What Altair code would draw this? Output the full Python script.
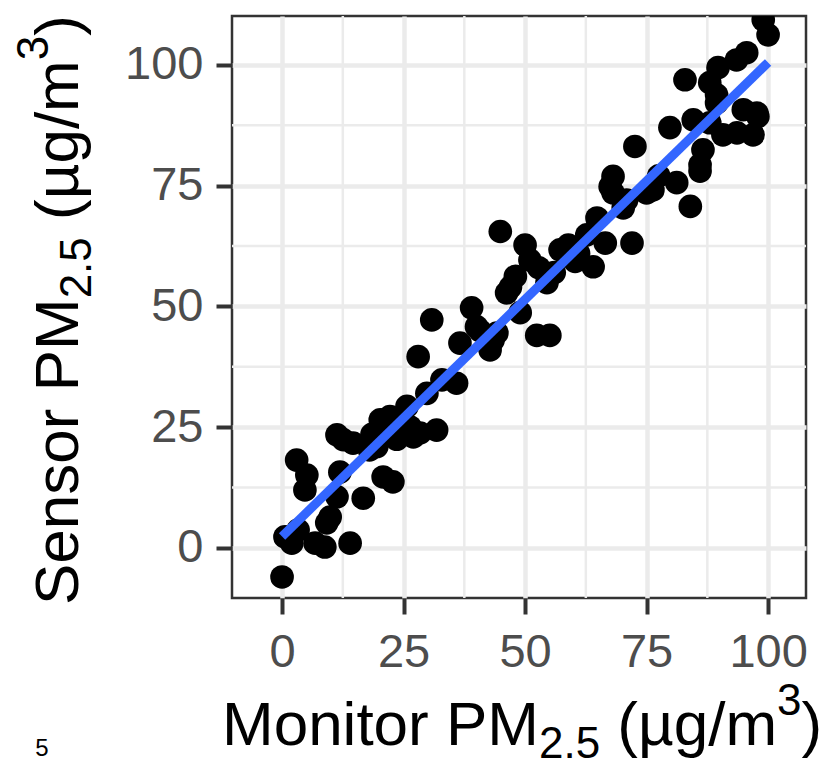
import altair as alt
import pandas as pd

# Monitor vs sensor PM2.5 readings (ug/m3)
monitor = [0, 0.6, 3, 5.1, 4.7, 2, 3.3, 6.8, 8.8, 9.2, 9.9, 11.3, 11.9, 14, 16.7, 20.8, 22.8,
           12.6, 14.6, 18, 27, 19.5, 20.2, 18.5, 21.5, 23.6, 22.2, 26.3, 25.7, 28.4, 31.8, 29.8,
           32.9, 35.9, 28, 30.8, 36.6, 39, 40, 42.8, 44.2, 46.2, 49, 52.4, 55.1, 44.9, 50, 51,
           48, 47, 54.5, 57.2, 58.9, 60.3, 64, 62.7, 64.8, 66.5, 72, 68.1, 70.2, 75, 72.6, 79.8,
           84.6, 67.5, 68.1, 70.9, 76.3, 81.2, 84, 86, 86.6, 90.7, 93.6, 96.9, 94.9, 97.7, 89.4,
           99, 100, 95.6, 93.5, 89.7, 82.9, 88, 89.4, 97.9, 86, 52.8, 56, 40.7, 43.4, 77.5, 88,
           11.3, 61]
sensor = [-6, 2.3, 18.2, 15.1, 12, 1, 3.7, 1, 0.2, 5.2, 6.4, 10.6, 15.7, 1, 10.3, 14.7, 13.7,
          22.4, 21.7, 20.3, 23, 21, 26.5, 23.5, 25, 22.5, 27.2, 25.1, 29.3, 23.8, 24.4, 32,
          34.8, 34.1, 39.6, 47.2, 42.4, 49.7, 45.8, 41, 44.5, 52.8, 48.7, 44, 44, 65.5, 62.7, 59.6,
          56.2, 54, 54.9, 61.7, 62.7, 59.3, 58.2, 64.8, 68.3, 63.1, 63.1, 73.5, 70.4, 73.5, 83.1, 87,
          88.6, 74.8, 76.9, 72, 74.1, 75.6, 70.7, 78, 82.4, 85.5, 85.9, 85.5, 90.7, 90, 92.1,
          109.3, 106.2, 102.5, 101, 99.4, 96.9, 96.3, 93.8, 89.3, 79.3, 58, 57, 45, 43, 77, 88,
          23.4, 61]

tick_values = [0, 25, 50, 75, 100]
minor_breaks = [12.5, 37.5, 62.5, 87.5]

df = pd.DataFrame({"monitor": monitor, "sensor": sensor})

FONT = "Liberation Sans"
W, H = 574, 582
xs = alt.Scale(domain=[-10.3, 107.8], nice=False, zero=False)
ys = alt.Scale(domain=[-10.35, 110.1], nice=False, zero=False)

common_axis = dict(values=tick_values, grid=True, gridColor="#EBEBEB", gridWidth=4.5,
                   domain=False, ticks=True, tickColor="#333333", tickWidth=4, tickSize=16,
                   labelFont=FONT, labelFontSize=47, labelColor="#4D4D4D", title=None)
xaxis = alt.Axis(labelPadding=15, **common_axis)
yaxis = alt.Axis(labelPadding=13, **common_axis)

minor_df = pd.DataFrame({"v": minor_breaks})
minor_x = alt.Chart(minor_df).mark_rule(color="#EBEBEB", strokeWidth=2.5).encode(
    x=alt.X("v:Q", scale=xs, axis=xaxis))
minor_y = alt.Chart(minor_df).mark_rule(color="#EBEBEB", strokeWidth=2.5).encode(
    y=alt.Y("v:Q", scale=ys, axis=yaxis))

points = alt.Chart(df).mark_circle(size=560, color="black", opacity=1, clip=True).encode(
    x=alt.X("monitor:Q", scale=xs, axis=xaxis),
    y=alt.Y("sensor:Q", scale=ys, axis=yaxis))

fit = alt.Chart(df).transform_regression(
    "monitor", "sensor", extent=[0, 100]
).mark_line(color="#3366FF", strokeWidth=9, strokeCap="butt", clip=True).encode(
    x=alt.X("monitor:Q", scale=xs, axis=xaxis),
    y=alt.Y("sensor:Q", scale=ys, axis=yaxis))

# Arial / Liberation Sans advance widths (em)
ADV = {"M": .833, "o": .556, "n": .556, "i": .222, "t": .278, "r": .333, " ": .278,
       "P": .667, "(": .333, ")": .333, "\u00b5": .576, "g": .556, "/": .278, "m": .833,
       "S": .667, "e": .556, "s": .5, ".": .278}
for d in "0123456789":
    ADV[d] = .556


def width(txt, size):
    return sum(ADV.get(c, .556) for c in txt) * size


BIG, SMALL = 62, 44
# (text, font size, baseline shift, extra leading gap in em of BIG)
x_parts = [("Monitor PM", BIG, 0, 0), ("2.5", SMALL, 13, 0), ("(\u00b5g/m", BIG, 0, .278),
           ("3", SMALL, -30, 0), (")", BIG, 0, 0)]
y_parts = [("Sensor PM", BIG, 0, 0), ("2.5", SMALL, 13, 0), ("(\u00b5g/m", BIG, 0, .278),
           ("3", SMALL, -30, 0), (")", BIG, 0, 0)]

one = pd.DataFrame({"a": [0]})
title_layers = []
off = 0.0
for txt, size, shift, gap in x_parts:
    off += gap * BIG
    title_layers.append(
        alt.Chart(one).mark_text(text=txt, font=FONT, fontSize=size, color="black",
                                 align="left", baseline="alphabetic").encode(
            x=alt.value(-10 + off), y=alt.value(729 + shift)))
    off += width(txt, size)
off = 0.0
for txt, size, shift, gap in y_parts:
    off += gap * BIG
    title_layers.append(
        alt.Chart(one).mark_text(text=txt, font=FONT, fontSize=size, color="black", angle=270,
                                 align="left", baseline="alphabetic").encode(
            x=alt.value(-154 + shift), y=alt.value(589 - off)))
    off += width(txt, size)

page_no = alt.Chart(one).mark_text(text="5", font=FONT, fontSize=24, color="black",
                                   align="center", baseline="middle").encode(
    x=alt.value(-190), y=alt.value(733))

chart = alt.layer(minor_x, minor_y, points, fit, *title_layers, page_no).properties(
    width=W, height=H,
    autosize=alt.AutoSizeParams(type="none"),
    padding={"left": 224, "top": 8, "right": 19, "bottom": 168},
    background="white",
).configure_view(stroke="#333333", strokeWidth=2.5)

chart.save("out.html", embed_options={"renderer": "svg", "actions": False})
